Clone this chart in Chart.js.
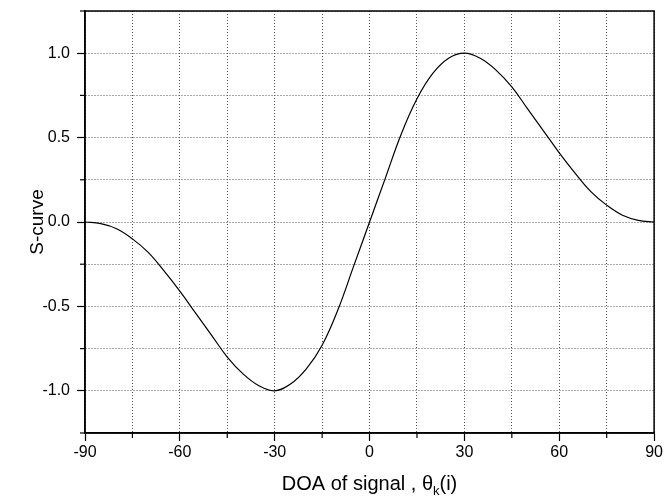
<!DOCTYPE html>
<html>
<head>
<meta charset="utf-8">
<script src="https://cdn.jsdelivr.net/npm/chart.js@4.4.1/dist/chart.umd.min.js"></script>
<style>
  html, body { margin: 0; padding: 0; background: #fff; }
  #wrap { width: 665px; height: 502px; position: relative; }
</style>
</head>
<body>
<div id="wrap"><canvas id="sChart"></canvas></div>
<script>
// DOA (degrees) and S-curve values
var doaDeg = [-90, -85, -80, -75, -70, -65, -60, -55, -50, -45, -40, -35, -30, -25, -20, -15, -10, -5,
              0, 5, 10, 15, 20, 25, 30, 35, 40, 45, 50, 55, 60, 65, 70, 75, 80, 85, 90];
var sCurve = [0, -0.01, -0.04, -0.10, -0.18, -0.29, -0.41, -0.54, -0.67, -0.80, -0.90, -0.97, -1.0, -0.96, -0.87, -0.73, -0.52, -0.26,
              0, 0.26, 0.52, 0.73, 0.88, 0.97, 1.0, 0.97, 0.90, 0.80, 0.67, 0.54, 0.41, 0.29, 0.18, 0.10, 0.04, 0.01, 0];
var xTickLabels = [-90, -60, -30, 0, 30, 60, 90];
var yTickLabels = [-1.0, -0.5, 0.0, 0.5, 1.0];

var FONT = '"Liberation Sans", Arial, sans-serif';

function isMajorX(v) { return xTickLabels.indexOf(v) !== -1; }
function isMajorY(v) { return yTickLabels.some(function (t) { return Math.abs(t - v) < 1e-6; }); }

// box, minor ticks and x title with subscript
var framePlugin = {
    id: 'frame',
    afterDraw: function (chart) {
        var ctx = chart.ctx;
        var a = chart.chartArea;
        ctx.save();
        ctx.strokeStyle = '#000';
        ctx.lineWidth = 1.5;
        ctx.strokeRect(a.left, a.top, a.right - a.left, a.bottom - a.top);

        ctx.lineWidth = 1.2;
        var xs = chart.scales.x;
        xs.ticks.forEach(function (t) {
            if (isMajorX(t.value)) return;
            var px = xs.getPixelForValue(t.value);
            ctx.beginPath();
            ctx.moveTo(px, a.bottom);
            ctx.lineTo(px, a.bottom + 5);
            ctx.stroke();
        });
        var ys = chart.scales.y;
        ys.ticks.forEach(function (t) {
            if (isMajorY(t.value)) return;
            var py = ys.getPixelForValue(t.value);
            ctx.beginPath();
            ctx.moveTo(a.left, py);
            ctx.lineTo(a.left - 5, py);
            ctx.stroke();
        });

        // x axis title: DOA of signal , θk(i)
        var part1 = 'DOA of signal , \u03B8';
        var sub = 'k';
        var part2 = '(i)';
        var big = '20px ' + FONT;
        var small = '13px ' + FONT;
        ctx.font = big;
        var w1 = ctx.measureText(part1).width;
        var w3 = ctx.measureText(part2).width;
        ctx.font = small;
        var w2 = ctx.measureText(sub).width;
        var total = w1 + w2 + w3;
        var x0 = (a.left + a.right) / 2 - total / 2;
        var base = 490;
        ctx.fillStyle = '#000';
        ctx.textBaseline = 'alphabetic';
        ctx.textAlign = 'left';
        ctx.font = big;
        ctx.fillText(part1, x0, base);
        ctx.font = small;
        ctx.fillText(sub, x0 + w1, base + 5);
        ctx.font = big;
        ctx.fillText(part2, x0 + w1 + w2, base);
        ctx.restore();
    }
};

document.addEventListener("DOMContentLoaded", function () {
    var points = doaDeg.map(function (d, i) { return { x: d, y: sCurve[i] }; });

    new Chart(document.getElementById('sChart'), {
        type: 'line',
        data: {
            datasets: [{
                label: 'S-curve',
                data: points,
                borderColor: '#000',
                borderWidth: 1.2,
                pointRadius: 0,
                fill: false,
                tension: 0.4
            }]
        },
        options: {
            responsive: true,
            maintainAspectRatio: false,
            animation: false,
            layout: { padding: { top: 11, right: 10, bottom: 0, left: 0 } },
            plugins: {
                legend: { display: false },
                tooltip: { enabled: false }
            },
            scales: {
                x: {
                    type: 'linear',
                    min: -90,
                    max: 90,
                    afterFit: function (scale) { scale.height = 69; },
                    ticks: {
                        stepSize: 15,
                        autoSkip: false,
                        maxRotation: 0,
                        padding: 2,
                        color: '#000',
                        font: { family: FONT, size: 16 },
                        callback: function (v) { return isMajorX(v) ? String(v) : ''; }
                    },
                    grid: {
                        color: '#555',
                        lineWidth: 1,
                        tickLength: 8,
                        tickWidth: 1.2,
                        tickColor: function (c) { return c.tick && isMajorX(c.tick.value) ? '#000' : 'rgba(0,0,0,0)'; }
                    },
                    border: { display: true, color: '#000', width: 1.5, dash: [1, 2] }
                },
                y: {
                    min: -1.25,
                    max: 1.25,
                    afterFit: function (scale) {
                        scale.width = 85;
                        scale.paddingTop = 0;
                        scale.paddingBottom = 0;
                    },
                    title: {
                        display: true,
                        text: 'S-curve',
                        color: '#000',
                        font: { family: FONT, size: 19 },
                        padding: { top: 26, bottom: 0 }
                    },
                    ticks: {
                        stepSize: 0.25,
                        autoSkip: false,
                        padding: 7,
                        color: '#000',
                        font: { family: FONT, size: 16 },
                        callback: function (v) { return isMajorY(v) ? v.toFixed(1) : ''; }
                    },
                    grid: {
                        color: '#555',
                        lineWidth: 1,
                        tickLength: 8,
                        tickWidth: 1.2,
                        tickColor: function (c) { return c.tick && isMajorY(c.tick.value) ? '#000' : 'rgba(0,0,0,0)'; }
                    },
                    border: { display: true, color: '#000', width: 1.5, dash: [1, 2] }
                }
            }
        },
        plugins: [framePlugin]
    });
});
</script>
</body>
</html>
